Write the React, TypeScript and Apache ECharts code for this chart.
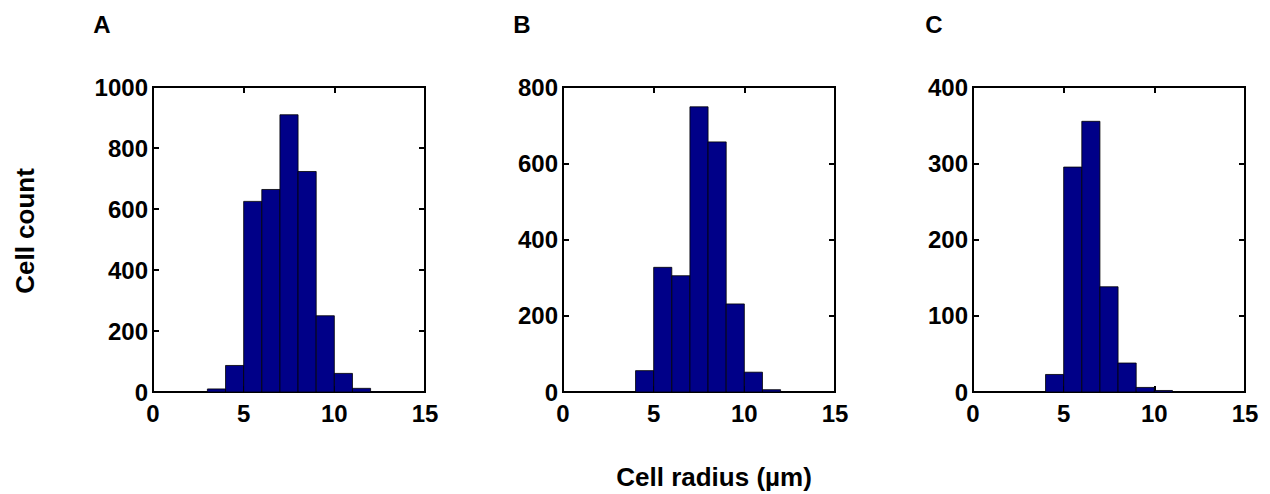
import React, { useEffect, useRef } from "react";
import * as echarts from "echarts";

const binEdges = [0, 1, 2, 3, 4, 5, 6, 7, 8, 9, 10, 11, 12, 13, 14, 15];
const countsA = [0, 0, 0, 10, 87, 625, 664, 909, 723, 250, 61, 12, 1, 0, 0];
const countsB = [0, 0, 0, 0, 56, 327, 305, 748, 656, 231, 52, 6, 0, 0, 0];
const countsC = [0, 0, 0, 0, 23, 295, 355, 138, 38, 6, 2, 0, 0, 0, 0];
const panelLetters = ["A", "B", "C"];
const yMax = [1000, 800, 400];
const yInterval = [200, 200, 100];
const xTicks = { min: 0, max: 15, interval: 5 };
const yTitle = "Cell count";
const xTitle = "Cell radius (µm)";

const FONT = "Liberation Sans, Arial, Helvetica, sans-serif";
const BAR = "#000088";

export default function App() {
  const ref = useRef<HTMLDivElement>(null);
  useEffect(() => {
    document.body.style.margin = "0";
    if (!ref.current) return;
    const chart = echarts.init(ref.current, undefined, { renderer: "svg" });
    const allCounts = [countsA, countsB, countsC];
    const lefts = [153, 563, 973];
    const top = 87;
    const width = 272;
    const height = 305;

    const grids: any[] = [];
    const xAxes: any[] = [];
    const yAxes: any[] = [];
    const series: any[] = [];
    const labelStyle = { color: "#000", fontFamily: FONT, fontWeight: "bold", fontSize: 24 };

    allCounts.forEach((counts, i) => {
      grids.push({
        left: lefts[i], top, width, height,
        show: true, borderColor: "#000", borderWidth: 2, backgroundColor: "transparent",
      });
      const xBase = {
        type: "value", gridIndex: i, min: xTicks.min, max: xTicks.max, interval: xTicks.interval,
        splitLine: { show: false },
        axisLine: { show: true, onZero: false, lineStyle: { color: "#000", width: 2 } },
        axisTick: { show: true, inside: true, length: 6, lineStyle: { color: "#000", width: 2 } },
      };
      xAxes.push({
        ...xBase, position: "bottom",
        axisLabel: { ...labelStyle, margin: 9, formatter: (v: number) => String(v) },
      });
      xAxes.push({ ...xBase, position: "top", axisLabel: { show: false } });
      const yBase = {
        type: "value", gridIndex: i, min: 0, max: yMax[i], interval: yInterval[i],
        splitLine: { show: false },
        axisLine: { show: true, onZero: false, lineStyle: { color: "#000", width: 2 } },
        axisTick: { show: true, inside: true, length: 6, lineStyle: { color: "#000", width: 2 } },
      };
      yAxes.push({
        ...yBase, position: "left",
        axisLabel: { ...labelStyle, margin: 5, formatter: (v: number) => String(v) },
      });
      yAxes.push({ ...yBase, position: "right", axisLabel: { show: false } });

      const data = counts.map((c, k) => [binEdges[k], binEdges[k + 1], c]);
      series.push({
        type: "custom",
        xAxisIndex: i * 2,
        yAxisIndex: i * 2,
        data,
        encode: { x: [0, 1], y: 2 },
        z: 1,
        renderItem: (params: any, api: any) => {
          const x0 = api.value(0);
          const x1 = api.value(1);
          const c = api.value(2);
          if (!c) return null;
          const p0 = api.coord([x0, c]);
          const p1 = api.coord([x1, 0]);
          return {
            type: "rect",
            shape: { x: p0[0], y: p0[1], width: p1[0] - p0[0], height: p1[1] - p0[1] },
            style: { fill: BAR, stroke: "#000", lineWidth: 0.8 },
          };
        },
      });
    });

    const letterX = [102, 522, 934];
    const graphics: any[] = panelLetters.map((t, i) => ({
      type: "text", x: letterX[i], y: 24,
      style: { text: t, fill: "#000", font: `bold 24px ${FONT}`, textAlign: "center", textVerticalAlign: "middle" },
    }));
    graphics.push({
      type: "text", x: 25, y: 231, rotation: Math.PI / 2,
      style: { text: yTitle, fill: "#000", font: `bold 26px ${FONT}`, textAlign: "center", textVerticalAlign: "middle" },
    });
    graphics.push({
      type: "text", x: 714, y: 477,
      style: { text: xTitle, fill: "#000", font: `bold 26px ${FONT}`, textAlign: "center", textVerticalAlign: "middle" },
    });

    chart.setOption({
      animation: false,
      backgroundColor: "#fff",
      grid: grids,
      xAxis: xAxes,
      yAxis: yAxes,
      series,
      graphic: graphics,
    });
    return () => chart.dispose();
  }, []);
  return <div ref={ref} style={{ width: 1270, height: 494 }} />;
}
